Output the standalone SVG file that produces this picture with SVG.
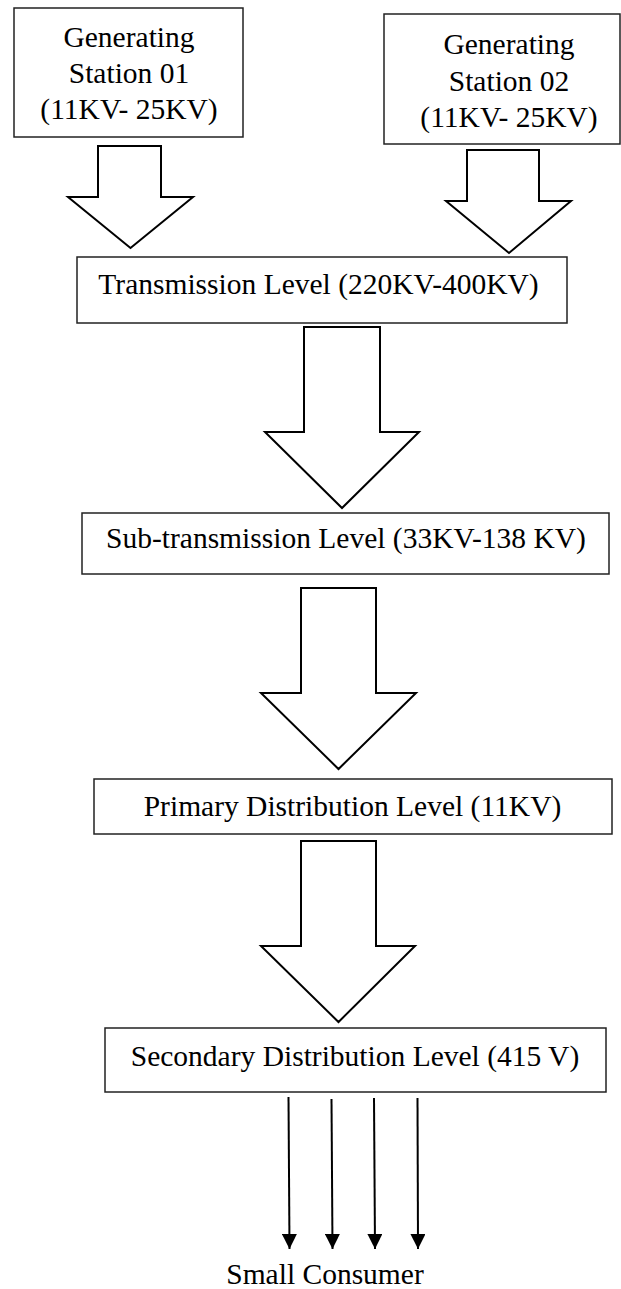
<svg xmlns="http://www.w3.org/2000/svg" width="621" height="1289" viewBox="0 0 621 1289">
<style>
.box{fill:#fff;stroke:#222;stroke-width:1.5}
.big{fill:#fff;stroke:#000;stroke-width:2;stroke-linejoin:miter}
.t{font-family:"Liberation Serif","Times New Roman",serif;font-size:29.5px;fill:#000;text-anchor:middle}
.ln{stroke:#000;stroke-width:2;fill:none}
</style>
<defs>
<marker id="ah" markerWidth="16" markerHeight="15" refX="15" refY="7.5" orient="auto" markerUnits="userSpaceOnUse">
<path d="M0,0 L15,7.5 L0,15 Z" fill="#000"/>
</marker>
</defs>
<rect width="621" height="1289" fill="#fff"/>
<g id="gen1">
<rect class="box" x="14" y="8" width="229" height="129"/>
<text class="t" x="129" y="46.5">Generating</text>
<text class="t" x="129" y="83">Station 01</text>
<text class="t" x="129" y="119">(11KV- 25KV)</text>
</g>
<g id="gen2">
<rect class="box" x="384" y="14" width="236" height="130"/>
<text class="t" x="509" y="54">Generating</text>
<text class="t" x="509" y="90.5">Station 02</text>
<text class="t" x="509" y="126.5">(11KV- 25KV)</text>
</g>
<g id="trans">
<rect class="box" x="77" y="257" width="490" height="66"/>
<text class="t" x="318.5" y="293.5">Transmission Level (220KV-400KV)</text>
</g>
<g id="subtrans">
<rect class="box" x="82" y="513" width="527" height="61"/>
<text class="t" x="346" y="548">Sub-transmission Level (33KV-138 KV)</text>
</g>
<g id="primary">
<rect class="box" x="94" y="779" width="518" height="55"/>
<text class="t" x="352.5" y="816">Primary Distribution Level (11KV)</text>
</g>
<g id="secondary">
<rect class="box" x="105" y="1028" width="501" height="64"/>
<text class="t" x="355" y="1066">Secondary Distribution Level (415 V)</text>
</g>
<g id="consumer">
<text class="t" x="325" y="1283.5">Small Consumer</text>
</g>
<g id="connectors">
<polygon class="big" points="98,146 161,146 161,197 193,197 130.5,248 68,197 98,197"/>
<polygon class="big" points="467,150 539,150 539,201 571,201 509,253 446,201 467,201"/>
<polygon class="big" points="304,327 380,327 380,432 419,432 342,508 265,432 304,432"/>
<polygon class="big" points="301,588 376,588 376,693 416,693 338.5,769 261,693 301,693"/>
<polygon class="big" points="301,841 376,841 376,946 415,946 338.5,1022 261,946 301,946"/>
<line class="ln" x1="288.5" y1="1097" x2="289.5" y2="1249" marker-end="url(#ah)"/>
<line class="ln" x1="331.5" y1="1099" x2="332.5" y2="1249" marker-end="url(#ah)"/>
<line class="ln" x1="374" y1="1098" x2="375" y2="1249" marker-end="url(#ah)"/>
<line class="ln" x1="417.5" y1="1098" x2="418" y2="1249" marker-end="url(#ah)"/>
</g>
</svg>
